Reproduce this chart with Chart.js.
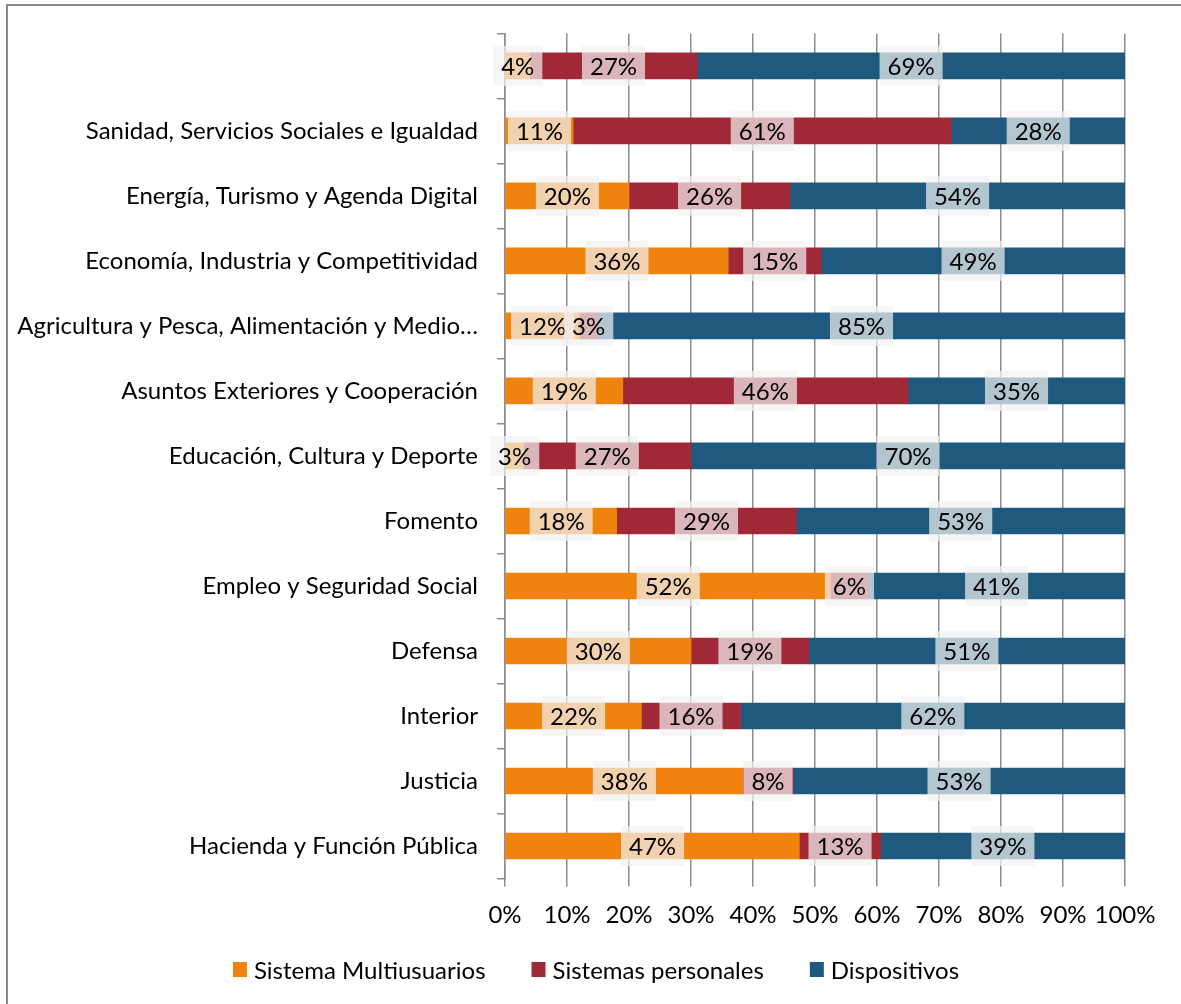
<!DOCTYPE html>
<html>
<head>
<meta charset="utf-8">
<script src="https://cdn.jsdelivr.net/npm/chart.js@4/dist/chart.umd.min.js"></script>
<style>
  html, body { margin: 0; padding: 0; background: #fff; overflow: hidden; }
  #wrap { position: relative; width: 1181px; height: 1004px; }
  #frame { position: absolute; left: 6px; top: 4px; width: 1200px; height: 1100px; border: 2px solid #8a8a8a; box-sizing: border-box; }
  canvas { position: absolute; left: 0; top: 0; }
</style>
</head>
<body>
<div id="wrap">
  <div id="frame"></div>
  <canvas id="c" width="1181" height="1004"></canvas>
</div>
<script>
const categories = ['', 'Sanidad, Servicios Sociales e Igualdad', 'Energía, Turismo y Agenda Digital',
  'Economía, Industria y Competitividad', 'Agricultura y Pesca, Alimentación y Medio…',
  'Asuntos Exteriores y Cooperación', 'Educación, Cultura y Deporte', 'Fomento',
  'Empleo y Seguridad Social', 'Defensa', 'Interior', 'Justicia', 'Hacienda y Función Pública'];
const seriesNames = ['Sistema Multiusuarios', 'Sistemas personales', 'Dispositivos'];
const multiusuarios = [4, 11, 20, 36, 12, 19, 3, 18, 52, 30, 22, 38, 47];
const personales    = [27, 61, 26, 15, 3, 46, 27, 29, 6, 19, 16, 8, 13];
const dispositivos  = [69, 28, 54, 49, 85, 35, 70, 53, 41, 51, 62, 53, 39];
const xTicks = [0, 10, 20, 30, 40, 50, 60, 70, 80, 90, 100];

const raw = [multiusuarios, personales, dispositivos];
const colors = ['#F0820E', '#A12937', '#1F5A7E'];
// normalise each row to 100% (100% stacked chart)
const totals = categories.map((_, i) => raw.reduce((s, a) => s + a[i], 0));
const norm = raw.map(a => a.map((v, i) => v / totals[i] * 100));

const FONT = 'Lato';
const FS = 24;

const labelPlugin = {
  id: 'segLabels',
  afterDatasetsDraw(chart) {
    const ctx = chart.ctx;
    ctx.save();
    ctx.font = `${FS}px ${FONT}`;
    ctx.textAlign = 'center';
    ctx.textBaseline = 'middle';
    chart.data.datasets.forEach((ds, di) => {
      const meta = chart.getDatasetMeta(di);
      meta.data.forEach((el, j) => {
        const txt = raw[di][j] + '%';
        const cx = (el.x + el.base) / 2;
        const cy = el.y;
        const w = ctx.measureText(txt).width + 16;
        const h = 40;
        ctx.fillStyle = 'rgba(242,242,242,0.7)';
        ctx.fillRect(cx - w / 2, cy - h / 2, w, h);
        ctx.fillStyle = '#000';
        ctx.fillText(txt, cx, cy + 1);
      });
    });
    ctx.restore();
  }
};

// legend drawn from the chart's own datasets, centred under the chart
const legendPlugin = {
  id: 'bottomLegend',
  afterDraw(chart) {
    const ctx = chart.ctx;
    ctx.save();
    ctx.font = `${FS}px ${FONT}`;
    ctx.textBaseline = 'middle';
    ctx.textAlign = 'left';
    const box = 14, gapText = 7, gapItem = 46, cy = 970, centre = 596;
    const items = chart.data.datasets.map(d => ({ t: d.label, c: d.backgroundColor, w: ctx.measureText(d.label).width }));
    const total = items.reduce((s, it) => s + box + gapText + it.w, 0) + gapItem * (items.length - 1);
    let x = centre - total / 2;
    items.forEach(it => {
      ctx.fillStyle = it.c;
      ctx.fillRect(x, cy - 8, box, 15);
      ctx.fillStyle = '#000';
      ctx.fillText(it.t, x + box + gapText, cy + 1);
      x += box + gapText + it.w + gapItem;
    });
    ctx.restore();
  }
};

new Chart(document.getElementById('c'), {
  type: 'bar',
  data: {
    labels: categories,
    datasets: seriesNames.map((n, i) => ({
      label: n,
      data: norm[i],
      backgroundColor: colors[i],
      borderWidth: 0,
      barThickness: 26
    }))
  },
  options: {
    indexAxis: 'y',
    responsive: false,
    animation: false,
    devicePixelRatio: 1,
    layout: { padding: { left: 0, right: 56, top: 33, bottom: 70.5 } },
    plugins: {
      legend: { display: false },
      tooltip: { enabled: false }
    },
    scales: {
      x: {
        stacked: true, min: 0, max: 100,
        afterBuildTicks: s => { s.ticks = xTicks.map(v => ({ value: v })); },
        afterFit: s => { s.height = 55; },
        ticks: { callback: v => v + '%', color: '#000', font: { family: FONT, size: FS }, padding: 14, maxRotation: 0, autoSkip: false },
        grid: { color: '#8c8c8c', lineWidth: 1.5, tickLength: 8 },
        border: { display: false }
      },
      y: {
        stacked: true,
        afterFit: s => { s.width = 505; },
        ticks: { color: '#000', font: { family: FONT, size: FS }, padding: 19, autoSkip: false },
        grid: { offset: true, drawOnChartArea: false, color: '#8c8c8c', lineWidth: 1.5, tickLength: 8 },
        border: { display: true, color: '#8c8c8c', width: 1.5 }
      }
    }
  },
  plugins: [labelPlugin, legendPlugin]
});
</script>
</body>
</html>
